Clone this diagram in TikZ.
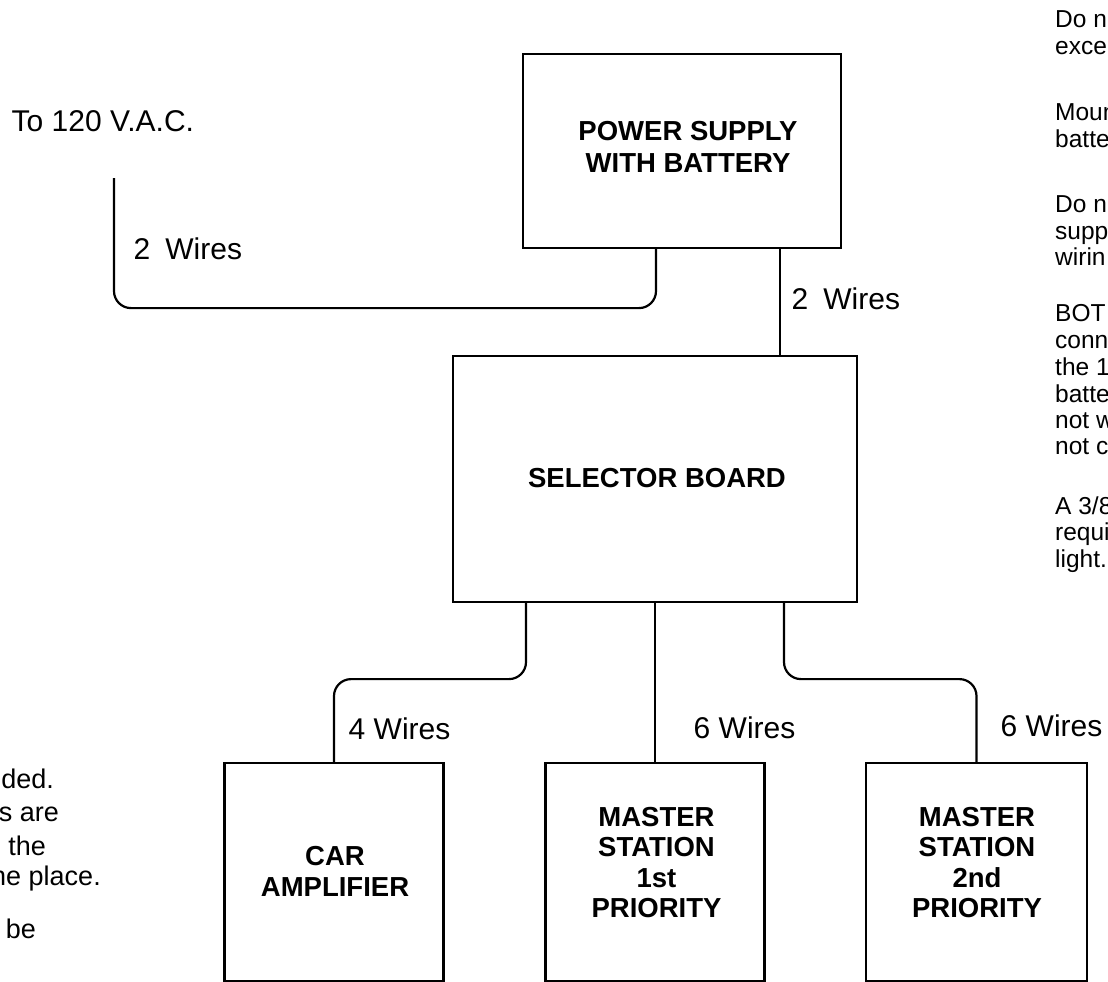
\documentclass[tikz,border=0pt]{standalone}
\usepackage{fontspec}
\setmainfont{Liberation Sans}
\usetikzlibrary{calc}
\begin{document}
\begin{tikzpicture}[x=1pt,y=-1pt,
  wire/.style={line width=2.2pt, rounded corners=17pt},
  box/.style={draw, line width=2.2pt, rectangle, inner sep=0pt},
  boxtxt/.style={font=\fontsize{27.5}{31}\selectfont\bfseries, align=center, inner sep=0pt},
  lbl/.style={font=\fontsize{30}{34}\selectfont, inner sep=0pt, anchor=base west},
  rnote/.style={font=\fontsize{24.5}{27}\selectfont, inner sep=0pt, anchor=base west},
  lnote/.style={font=\fontsize{27}{31}\selectfont, inner sep=0pt, anchor=base east}]
\useasboundingbox (0,0) rectangle (1108,982);
\clip (0,0) rectangle (1108,982);
\fill[white] (0,0) rectangle (1108,982);

% boxes
\node[box, minimum width=318pt, minimum height=194pt] (ps) at (682,151) {};
\node[box, minimum width=404pt, minimum height=246pt] (sel) at (655,479) {};
\node[box, minimum width=219pt, minimum height=218pt] (car) at (334,872) {};
\node[box, minimum width=219pt, minimum height=218pt] (ms1) at (655,872) {};
\node[box, minimum width=221pt, minimum height=218pt] (ms2) at (976.5,872) {};

% box texts
\node[boxtxt, font=\fontsize{27.5}{32}\selectfont\bfseries] (pst) at (688,147) {POWER SUPPLY\\WITH BATTERY};
\node[boxtxt] (selt) at (657,478) {SELECTOR BOARD};
\node[boxtxt] (cart) at (335,871) {CAR\\AMPLIFIER};
\node[boxtxt, font=\fontsize{27.5}{30.3}\selectfont\bfseries] (ms1t) at (656.5,862.5) {MASTER\\STATION\\1st\\PRIORITY};
\node[boxtxt, font=\fontsize{27.5}{30.3}\selectfont\bfseries] (ms2t) at (977,862.5) {MASTER\\STATION\\2nd\\PRIORITY};

% wires
\coordinate (ac) at (114,178);
\coordinate (psL) at ([xshift=-26pt]ps.south);
\coordinate (psR) at ([xshift=98pt]ps.south);
\draw[wire] (ac) |- ([yshift=-59pt]psL) -- (psL);
\draw[wire] (psR) -- (psR |- sel.north);
\draw[wire] ([xshift=-129pt]sel.south) -- ++(0,76) -| (car.north);
\draw[wire] (sel.south) -- (ms1.north);
\draw[wire] ([xshift=129pt]sel.south) -- ++(0,76) -| (ms2.north);

% labels
\node[lbl] (vac) at (11.5,131) {To 120 V.A.C.};
\node[lbl] (w1) at (133.5,259) {2\hspace{0.5em}Wires};
\node[lbl] (w2) at (791.5,309) {2\hspace{0.5em}Wires};
\node[lbl] (w3) at (348.5,739) {4 Wires};
\node[lbl] (w4) at (693.5,738) {6 Wires};
\node[lbl] (w5) at (1000.5,736) {6 Wires};

% right notes (cut by the page edge)
\node[rnote] (r1) at (1055,27.5) {Do n};
\node[rnote] (r2) at (1055,54.5) {exce};
\node[rnote] (r3) at (1055,120.5) {Moun};
\node[rnote] (r4) at (1055,147.5) {batte};
\node[rnote] (r5) at (1055,212.5) {Do n};
\node[rnote] (r6) at (1055,239.5) {supp};
\node[rnote] (r7) at (1055,265.5) {wirin};
\node[rnote] (r8) at (1055,321.5) {BOT};
\node[rnote] (r9) at (1055,348.5) {conn};
\node[rnote] (r10) at (1055,375.5) {the 1};
\node[rnote] (r11) at (1055,402.5) {batte};
\node[rnote] (r12) at (1055,428.5) {not w};
\node[rnote] (r13) at (1055,454.5) {not c};
\node[rnote] (r14) at (1055,514.5) {A 3/8};
\node[rnote] (r15) at (1055,540.5) {requi};
\node[rnote] (r16) at (1055,567.5) {light.};

% left notes (cut by the page edge)
\node[lnote] (l1) at (54,788) {ded.};
\node[lnote] (l2) at (59,821) {s are};
\node[lnote] (l3) at (46,855) {the};
\node[lnote] (l4) at (101,885) {ne place.};
\node[lnote] (l5) at (36,938) {be};
\end{tikzpicture}
\end{document}
